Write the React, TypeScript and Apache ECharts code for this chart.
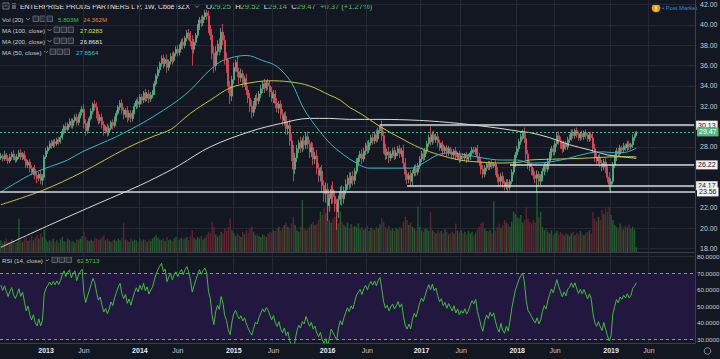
import React, { useEffect, useRef } from "react";
import * as echarts from "echarts";

// ---------- data ----------
const startDate = "2012-07-09"; // Monday of first weekly bar
const paddingWeeks = 32; // empty weeks on the right side of the chart

const priorCloses = [25.6, 25.2, 24.8, 25.1, 24.5, 24.0, 24.4, 24.9, 25.3, 25.0, 25.6, 26.0, 26.4, 26.9];

const closes = [
  27.1, 26.8, 27.2, 26.9, 26.6, 27.0, 27.3, 26.9, 26.7, 27.0,
  27.4, 27.0, 27.3, 26.8, 26.2, 26.5, 25.9, 25.5, 25.8, 25.2,
  24.9, 25.3, 24.7, 25.0, 27.0, 27.6, 27.9, 28.3, 28.1, 28.5,
  28.3, 28.7, 28.5, 28.9, 29.5, 30.0, 29.7, 30.2, 30.5, 30.1,
  30.6, 30.9, 30.4, 31.0, 31.4, 31.7, 30.3, 29.6, 30.2, 30.8,
  31.5, 32.2, 31.9, 31.2, 30.6, 30.9, 30.2, 29.6, 29.9, 29.4,
  29.8, 30.4, 30.1, 30.8, 31.3, 31.9, 32.3, 31.6, 31.2, 31.6,
  30.9, 31.3, 30.8, 31.4, 32.0, 32.5, 32.2, 32.9, 32.6, 33.3,
  32.8, 33.2, 32.7, 33.1, 33.4, 34.2, 35.0, 35.6, 36.2, 36.7,
  36.2, 36.6, 35.8, 36.4, 36.9, 36.5, 37.2, 37.6, 37.3, 37.9,
  38.3, 38.0, 38.7, 39.2, 38.9, 38.4, 37.6, 38.3, 39.0, 39.8,
  40.5, 40.2, 40.8, 41.2, 40.9, 39.6, 39.0, 37.2, 36.0, 37.4,
  38.1, 37.6, 39.3, 38.5, 36.7, 35.9, 34.0, 33.0, 34.6, 35.8,
  36.3, 35.4, 34.8, 35.2, 34.3, 34.7, 33.6, 32.8, 32.0, 31.4,
  32.1, 32.8, 32.5, 33.2, 33.7, 34.2, 33.8, 34.3, 34.0, 33.4,
  32.8, 33.2, 32.3, 31.8, 32.2, 31.2, 30.6, 31.0, 29.8, 30.1,
  28.6, 27.4, 25.8, 26.9, 27.8, 28.4, 27.9, 28.6, 28.2, 29.0,
  28.3, 27.5, 27.9, 26.8, 27.1, 25.9, 25.2, 25.6, 24.2, 23.4,
  23.8, 22.2, 22.9, 23.8, 23.1, 22.4, 21.6, 22.8, 23.6, 22.9,
  23.7, 24.3, 24.9, 24.4, 25.1, 24.7, 25.6, 26.5, 26.9, 27.3,
  26.8, 27.6, 28.1, 27.7, 28.4, 28.9, 28.6, 29.2, 28.8, 29.6,
  30.0, 29.1, 27.9, 27.2, 27.5, 26.9, 27.3, 27.6, 27.1, 27.4,
  27.8, 27.3, 27.6, 26.4, 25.3, 24.8, 25.2, 24.6, 25.4, 25.9,
  25.5, 26.1, 26.8, 27.3, 27.0, 27.6, 28.3, 28.9, 28.5, 29.2,
  28.7, 29.0, 28.4, 27.9, 28.2, 27.6, 27.9, 27.4, 27.8, 27.5,
  27.2, 27.6, 27.0, 27.3, 26.8, 27.1, 26.9, 27.2, 26.8, 27.0,
  27.4, 27.7, 27.5, 27.8, 27.0, 26.5, 25.8, 25.3, 25.9, 26.3,
  26.0, 26.4, 26.1, 26.3, 25.6, 25.0, 24.6, 25.1, 24.4, 24.1,
  24.5, 24.0, 24.6, 25.5, 26.3, 27.2, 27.8, 28.5, 29.0, 29.4,
  28.8, 27.3, 26.3, 26.0, 25.6, 25.2, 24.9, 25.3, 24.6, 24.9,
  25.6, 26.1, 25.8, 26.6, 27.2, 27.8, 27.5, 28.3, 29.1, 28.6,
  28.2, 27.8, 28.3, 28.0, 28.7, 28.9, 29.4, 29.1, 29.6, 29.2,
  28.9, 29.3, 29.0, 29.4, 29.1, 28.8, 29.2, 28.9, 27.8, 27.0,
  26.6, 26.9, 26.4, 26.0, 26.5, 25.8, 25.0, 24.3, 24.6, 26.2,
  26.9, 27.6, 27.3, 27.9, 27.7, 28.1, 27.9, 28.3, 28.0, 28.2,
  28.9, 29.1, 29.47,
];

const upperWicks = [
  .3, .2, .4, .2, .3, .3, .2, .4, .2, .3,
  .3, .4, .2, .3, .4, .2, .3, .3, .2, .4,
  .3, .2, .4, .3, .2, .3, .2, .3, .4, .2,
  .3, .2, .3, .2, .3, .2, .4, .2, .3, .3,
  .2, .3, .4, .2, .3, .3, .5, .4, .3, .2,
  .3, .2, .4, .5, .3, .3, .4, .3, .2, .4,
  .3, .2, .3, .2, .3, .2, .3, .4, .3, .2,
  .4, .3, .3, .2, .3, .2, .4, .3, .3, .2,
  .4, .2, .4, .3, .2, .3, .2, .3, .2, .3,
  .4, .2, .5, .2, .3, .4, .2, .3, .4, .2,
  .3, .4, .2, .3, .4, .5, .6, .3, .2, .3,
  .3, .4, .2, .3, .3, .5, .4, .6, .7, .5,
  .4, .6, .4, .8, .5, .6, .7, .5, .4, .5,
  .3, .6, .4, .5, .4, .3, .5, .4, .5, .6,
  .4, .3, .5, .3, .4, .3, .5, .2, .4, .5,
  .5, .4, .4, .5, .3, .4, .5, .4, .5, .4,
  .6, .7, .8, .5, .4, .3, .6, .3, .5, .4,
  .5, .4, .6, .5, .4, .6, .5, .4, .6, .5,
  .7, .6, .5, .4, .8, .6, .5, .4, .5, .6,
  .4, .5, .3, .6, .4, .5, .3, .4, .3, .3,
  .5, .3, .3, .5, .3, .3, .4, .3, .5, .3,
  .2, .6, .5, .4, .3, .5, .3, .3, .4, .3,
  .3, .4, .3, .6, .5, .4, .3, .5, .3, .3,
  .4, .3, .3, .3, .4, .3, .3, .3, 1.1, .3,
  .4, .3, .4, .3, .2, .4, .2, .3, .3, .2,
  .3, .2, .4, .2, .3, .2, .3, .2, .3, .3,
  .2, .3, .3, .2, .4, .4, .5, .4, .3, .2,
  .3, .2, .3, .2, .4, .4, .3, .3, .4, .3,
  .3, .3, .2, .3, .3, .3, .3, .3, .3, .3,
  .5, .6, .4, .3, .4, .3, .4, .4, .3, .4,
  .3, .3, .4, .3, .3, .3, .4, .3, .3, .4,
  .4, .3, .3, .3, .3, .3, .3, .3, .2, .3,
  .3, .2, .3, .2, .3, .3, .2, .3, .5, .5,
  .4, .3, .4, .3, .3, .4, .4, .5, .3, .3,
  .3, .3, .3, .3, .2, .3, .2, .3, .3, .2,
  .3, .2, .05,
];

const lowerWicks = [
  .2, .3, .2, .3, .3, .2, .3, .2, .3, .2,
  .2, .3, .3, .2, .3, .3, .4, .3, .3, .4,
  .5, .3, .4, .5, .3, .2, .3, .2, .3, .2,
  .3, .2, .3, .2, .2, .3, .3, .2, .3, .3,
  .3, .2, .3, .3, .2, .3, .5, .5, .3, .3,
  .2, .3, .3, .4, .4, .3, .4, .5, .3, .4,
  .3, .2, .4, .2, .3, .2, .3, .4, .5, .3,
  .5, .3, .4, .3, .2, .3, .4, .3, .4, .3,
  .4, .3, .4, .3, .3, .3, .2, .3, .3, .3,
  .5, .3, .5, .3, .3, .4, .2, .3, .4, .3,
  .3, .4, .3, .3, .4, .5, 1.6, .4, .3, .3,
  .3, .4, .3, .3, .4, .4, .5, .6, .7, .5,
  .4, .6, .3, .5, .6, .6, .7, .8, .5, .4,
  .4, .5, .6, .4, .5, .4, .5, .5, .6, .6,
  .4, .4, .5, .3, .4, .4, .5, .3, .4, .5,
  .4, .5, .5, .4, .5, .5, .5, .5, .6, .6,
  .5, .8, 1.2, .5, .4, .4, .5, .4, .5, .4,
  .5, .6, .5, .6, .5, .6, .7, .6, .7, .8,
  .9, 1.5, .6, .5, .7, .8, 1.8, .6, .5, .7,
  .5, .4, .5, .6, .4, .5, .4, .3, .4, .4,
  .5, .3, .4, .4, .3, .3, .4, .3, .4, .3,
  .3, .5, .6, .5, .4, .5, .3, .4, .4, .3,
  .3, .4, .3, .5, .6, .5, .4, .5, .4, .3,
  .4, .3, .3, .3, .4, .3, .3, .3, .4, .3,
  .3, .3, .4, .3, .3, .4, .3, .4, .3, .3,
  .4, .3, .3, .3, .4, .3, .3, .3, .4, .3,
  .3, .3, .2, .3, .5, .4, .5, .4, .3, .3,
  .3, .3, .3, .2, .4, .5, .5, .4, .4, .4,
  .3, .4, .3, .3, .3, .3, .3, .3, .3, .3,
  .4, .6, .5, .4, .4, .4, .5, 1.4, .5, .4,
  .3, .4, .3, .3, .3, .3, .4, .3, .3, .4,
  .4, .4, .3, .3, .3, .3, .3, .3, .3, .3,
  .3, .3, .3, .3, .3, .3, .3, .3, .4, .5,
  .4, .3, .4, .4, .3, .4, .5, .6, .8, .3,
  .3, .3, .3, .3, .3, .3, .3, .3, .3, .3,
  .3, .3, 0,
];

// weekly volume, millions
const volumes = [
  14, 11, 13, 16, 12, 10, 15, 13, 11, 12,
  40, 14, 12, 16, 18, 13, 15, 19, 14, 17,
  20, 16, 22, 18, 26, 15, 12, 14, 13, 16,
  12, 14, 11, 15, 18, 13, 12, 16, 14, 12,
  13, 11, 15, 14, 16, 19, 24, 18, 14, 13,
  15, 13, 17, 16, 14, 15, 18, 20, 14, 16,
  13, 12, 14, 15, 13, 16, 14, 17, 35, 15,
  14, 12, 16, 13, 15, 14, 12, 16, 13, 15,
  14, 12, 15, 13, 16, 18, 20, 17, 15, 14,
  16, 13, 18, 14, 15, 13, 16, 18, 14, 15,
  17, 15, 16, 18, 14, 19, 26, 17, 15, 18,
  16, 19, 15, 17, 20, 24, 22, 36, 30, 21,
  18, 20, 24, 22, 28, 25, 30, 40, 26, 22,
  19, 22, 20, 18, 24, 21, 26, 23, 28, 30,
  24, 20, 22, 19, 18, 21, 20, 18, 22, 24,
  23, 26, 25, 28, 30, 26, 29, 32, 35, 30,
  28, 34, 42, 32, 26, 24, 30, 62, 28, 26,
  27, 30, 33, 36, 32, 34, 38, 48, 44, 52,
  46, 54, 38, 35, 40, 42, 45, 34, 48, 36,
  32, 30, 35, 28, 33, 30, 31, 29, 34, 27,
  30, 26, 28, 31, 25, 29, 27, 26, 30, 28,
  33, 40, 36, 30, 27, 31, 26, 28, 25, 29,
  27, 30, 28, 36, 42, 38, 32, 35, 30, 28,
  26, 54, 30, 26, 24, 28, 27, 25, 48, 26,
  24, 22, 26, 23, 25, 22, 27, 24, 21, 23,
  24, 22, 34, 25, 23, 26, 22, 24, 21, 25,
  22, 24, 20, 23, 27, 30, 34, 36, 28, 25,
  24, 26, 23, 60, 25, 30, 34, 29, 32, 38,
  35, 33, 30, 36, 48, 45, 42, 40, 44, 35,
  38, 54, 40, 36, 34, 38, 35, 80, 42, 48,
  30, 26, 28, 24, 22, 26, 20, 23, 25, 21,
  24, 22, 20, 23, 21, 19, 22, 24, 20, 23,
  21, 25, 22, 20, 23, 24, 26, 22, 48, 40,
  36, 42, 38, 50, 45, 52, 48, 54, 44, 38,
  32, 30, 28, 34, 30, 27, 31, 29, 33, 28,
  30, 27, 5.8,
];

// moving-average curves: [week index, value]
const ma50Knots = [
  [0, 23.55], [18, 25.4], [37, 26.7], [45, 27.5], [64, 29.0], [79, 30.4], [90, 31.6], [99, 32.7],
  [105, 33.6], [116, 35.6], [123, 36.5], [136, 37.0], [145, 36.5], [153, 35.9], [161, 34.3],
  [167, 32.0], [172, 30.6], [182, 28.4], [190, 27.2], [196, 26.5], [204, 25.9], [215, 25.9],
  [227, 25.9], [232, 26.2], [242, 27.2], [249, 27.4], [258, 27.2], [267, 26.9], [277, 26.7],
  [286, 26.7], [293, 26.4], [304, 26.5], [315, 26.9], [326, 27.4], [334, 27.5], [341, 27.4],
  [347, 27.5], [352, 27.86],
];
const ma100Knots = [
  [0, 22.3], [23, 23.7], [45, 25.5], [70, 27.9], [84, 29.0], [94, 29.7], [99, 30.4], [105, 31.3],
  [116, 32.6], [127, 33.8], [138, 34.3], [149, 34.5], [160, 34.4], [171, 34.0], [182, 33.1],
  [188, 32.6], [193, 31.9], [199, 31.3], [210, 30.0], [221, 28.9], [232, 27.9], [243, 27.2],
  [254, 26.7], [265, 26.5], [277, 26.4], [288, 26.5], [293, 26.7], [310, 26.8], [326, 26.9],
  [337, 27.0], [352, 27.03],
];
const ma200Knots = [
  [0, 18.1], [27, 20.3], [55, 22.5], [77, 24.2], [94, 25.7], [99, 26.2], [116, 28.0], [138, 29.5],
  [155, 30.3], [171, 30.8], [182, 30.8], [193, 30.7], [210, 30.7], [232, 30.6], [254, 30.3],
  [277, 29.8], [288, 29.5], [293, 29.4], [304, 28.9], [315, 28.2], [326, 27.7], [336, 27.2],
  [345, 27.0], [352, 26.87],
];

// horizontal price levels: value and the week index where they start
const levelValues = [30.13, 26.22, 24.17, 23.56];
const levelStarts = [210, 282, 225, 0];
const lastPrice = 29.47;

const priceTicks = [18, 20, 22, 24, 26, 28, 30, 32, 34, 36, 38, 40, 42];
const priceLabelTicks = [18, 20, 22, 28, 32, 34, 36, 38, 40, 42]; // others are hidden behind level tags
const rsiTicks = [30, 40, 50, 60, 70, 80];

// ---------- style ----------
const BG = "#131722";
const GRID = "#242833";
const AXIS = "#3a3e4a";
const TXT = "#c9ccd4";
const UP = "#53b987";
const DOWN = "#eb4d5c";
const FONT = "Liberation Sans, Arial, sans-serif";

const DAY = 86400000;
const start = Date.parse(startDate + "T00:00:00Z");
const totalWeeks = closes.length + paddingWeeks;
const dates: string[] = [];
for (let i = 0; i < totalWeeks; i++) dates.push(new Date(start + i * 7 * DAY).toISOString().slice(0, 10));

function markFor(dateStr: string): string {
  const d = Date.parse(dateStr + "T00:00:00Z");
  const e = d + 6 * DAY;
  const ed = new Date(e);
  const first = Date.UTC(ed.getUTCFullYear(), ed.getUTCMonth(), 1);
  if (first >= d && first <= e) {
    const m = ed.getUTCMonth();
    if (m === 0) return String(ed.getUTCFullYear());
    if (m === 5) return "Jun";
  }
  return "";
}
const isMark = (_i: number, v: string) => markFor(v) !== "";

function buildOption() {
  const candles = closes.map((c, i) => {
    const o = i === 0 ? priorCloses[priorCloses.length - 1] : closes[i - 1];
    const hi = Math.max(o, c) + upperWicks[i];
    const lo = Math.min(o, c) - lowerWicks[i];
    return [o, c, +lo.toFixed(2), +hi.toFixed(2)];
  });
  const vols = volumes.map((v, i) => ({
    value: v,
    itemStyle: { color: candles[i][1] >= candles[i][0] ? "#1d5a2c" : "#5b2230" },
  }));

  // RSI(14), Wilder
  const all = [...priorCloses, ...closes];
  const p = priorCloses.length;
  const rsi: number[] = [];
  let ag = 0, al = 0;
  for (let k = 1; k <= 14; k++) {
    const ch = all[k] - all[k - 1];
    if (ch > 0) ag += ch; else al -= ch;
  }
  ag /= 14; al /= 14;
  for (let k = 14; k < all.length; k++) {
    if (k > 14) {
      const ch = all[k] - all[k - 1];
      ag = (ag * 13 + Math.max(ch, 0)) / 14;
      al = (al * 13 + Math.max(-ch, 0)) / 14;
    }
    if (k >= p) rsi.push(al === 0 ? 100 : 100 - 100 / (1 + ag / al));
  }

  const last = totalWeeks - 1;
  const tagLabel = (bg: string, fg: string) => ({
    show: true,
    position: "end",
    distance: 2,
    formatter: (pr: any) => pr.data && pr.data.tag,
    backgroundColor: bg,
    color: fg,
    fontSize: 7,
    fontFamily: FONT,
    padding: [1, 2, 1, 2],
  });
  const levelStyle = { color: "#d5d8df", width: 1.6, type: "solid" };
  const levelLines: any[] = levelValues.map((v, k) =>
    levelStarts[k] === 0
      ? { yAxis: v, tag: v.toFixed(2), lineStyle: levelStyle, label: tagLabel("#f0f0f0", "#131722") }
      : [
          { coord: [levelStarts[k], v], tag: v.toFixed(2), lineStyle: levelStyle, label: tagLabel("#f0f0f0", "#131722") },
          { coord: [last, v] },
        ]
  );
  levelLines.push({
    yAxis: lastPrice,
    tag: lastPrice.toFixed(2),
    lineStyle: { color: UP, width: 1, type: [2, 2] },
    label: tagLabel(UP, "#ffffff"),
  });

  const maLine = (data: number[][], color: string) => ({
    type: "line",
    xAxisIndex: 0,
    yAxisIndex: 0,
    data,
    smooth: 0.35,
    showSymbol: false,
    symbol: "none",
    lineStyle: { color, width: 1 },
    z: 4,
    silent: true,
  });

  const txt = (x: number, y: number, text: string, fill: string, size = 6.2, weight = "normal") => ({
    type: "text",
    x,
    y,
    silent: true,
    style: { text, fill, font: `${weight} ${size}px ${FONT}`, verticalAlign: "middle" },
  });
  const chevron = (x: number, y: number) => ({
    type: "polyline",
    silent: true,
    shape: { points: [[x, y - 1], [x + 2, y + 1], [x + 4, y - 1]] },
    style: { stroke: "#9598a1", lineWidth: 0.8, fill: "none" },
  });
  const icons = (x: number, y: number) =>
    [0, 1, 2].map((k) => ({
      type: "rect",
      silent: true,
      shape: { x: x + k * 7, y: y - 3, width: 5.5, height: 5.5 },
      style: { stroke: "#6a6d78", lineWidth: 0.8, fill: "#2a2e39" },
    }));

  const rows = [
    { y: 19, label: "Vol (20)", cx: 26, ix: 33, vals: [[58, "5.803M", "#3fbf4f"], [83, "24.362M", "#e8843c"]] },
    { y: 30, label: "MA (100, close)", cx: 47.5, ix: 54, vals: [[80, "27.0283", "#e2e23a"]] },
    { y: 41, label: "MA (200, close)", cx: 47.5, ix: 54, vals: [[80, "26.8681", "#e6e6e6"]] },
    { y: 52, label: "MA (50, close)", cx: 44, ix: 50, vals: [[76, "27.8564", "#2ec4d6"]] },
    { y: 260, label: "RSI (14, close)", cx: 45, ix: 52, vals: [[77, "62.5713", "#47c93c"]] },
  ];
  const graphics: any[] = [];
  rows.forEach((r) => {
    graphics.push(txt(2, r.y, r.label, TXT));
    graphics.push(chevron(r.cx, r.y));
    graphics.push(...icons(r.ix, r.y));
    r.vals.forEach((v: any) => graphics.push(txt(v[0], r.y, v[1], v[2])));
  });
  // title row
  graphics.push({
    type: "rect", silent: true, shape: { x: 3, y: 3, width: 6, height: 6 },
    style: { stroke: "#8a8d96", lineWidth: 0.8, fill: "none" },
  });
  graphics.push({
    type: "line", silent: true, shape: { x1: 4.5, y1: 6, x2: 7.5, y2: 6 },
    style: { stroke: "#8a8d96", lineWidth: 0.8 },
  });
  graphics.push({
    type: "rect", silent: true, shape: { x: 12, y: 3, width: 4, height: 6 },
    style: { fill: "#5d606b" },
  });
  graphics.push(txt(20, 6.5, "ENTERPRISE PRODS PARTNERS L P, 1W, Cboe BZX", "#e1e3ea", 6.9));
  graphics.push(chevron(195, 6.5));
  graphics.push({
    type: "text",
    x: 206,
    y: 6.5,
    silent: true,
    style: {
      text: "{l|O}{v|29.25}  {l|H}{v|29.52}  {l|L}{v|29.14}  {l|C}{v|29.47}  {v|+0.37 (+1.27%)}",
      verticalAlign: "middle",
      font: `7.6px ${FONT}`,
      rich: {
        l: { fill: "#e1e3ea", font: `7.6px ${FONT}` },
        v: { fill: "#4fc26a", font: `7.6px ${FONT}` },
      },
    },
  });
  // top right status
  graphics.push({ type: "circle", silent: true, shape: { cx: 656, cy: 8, r: 4.3 }, style: { fill: "#f39c12" } });
  graphics.push(txt(655, 8.3, "!", "#ffffff", 6.5, "bold"));
  graphics.push(txt(662, 7.5, "• Post Market", "#2f8fe0", 5.9));
  // settings icon bottom right
  graphics.push({ type: "circle", silent: true, shape: { cx: 707.5, cy: 351, r: 3.3 }, style: { stroke: "#9598a1", lineWidth: 0.9, fill: "none" } });

  return {
    backgroundColor: BG,
    animation: false,
    textStyle: { fontFamily: FONT },
    grid: [
      { left: 0, top: 0, width: 695, height: 252, outerBoundsMode: "none" },
      { left: 0, top: 253, width: 695, height: 90, outerBoundsMode: "none" },
    ],
    xAxis: [
      {
        type: "category", gridIndex: 0, data: dates, boundaryGap: true,
        axisLine: { show: true, lineStyle: { color: AXIS, width: 1 } },
        axisTick: { show: false }, axisLabel: { show: false },
        splitLine: { show: true, interval: isMark, lineStyle: { color: GRID, width: 1 } },
      },
      {
        type: "category", gridIndex: 1, data: dates, boundaryGap: true,
        axisLine: { show: true, lineStyle: { color: AXIS, width: 1 } },
        axisTick: { show: false },
        axisLabel: {
          show: true, interval: isMark, margin: 4,
          formatter: (v: string) => {
            const m = markFor(v);
            return m === "Jun" ? `{m|${m}}` : `{y|${m}}`;
          },
          rich: {
            y: { color: "#e6e8ee", fontSize: 7, fontWeight: "bold", fontFamily: FONT },
            m: { color: "#c3c6ce", fontSize: 7, fontFamily: FONT },
          },
        },
        splitLine: { show: true, interval: isMark, lineStyle: { color: GRID, width: 1 } },
      },
    ],
    yAxis: [
      {
        type: "value", gridIndex: 0, position: "right", min: 17.64, max: 42.46, scale: true,
        axisLine: { show: true, lineStyle: { color: AXIS } },
        axisTick: { show: false, customValues: priceTicks },
        axisLabel: {
          customValues: priceLabelTicks, color: TXT, fontSize: 7, margin: 5, fontFamily: FONT,
          formatter: (v: number) => v.toFixed(2),
        },
        splitLine: { show: true, lineStyle: { color: GRID, width: 1 } },
      },
      { type: "value", gridIndex: 0, min: 0, max: 300, show: false, splitLine: { show: false } },
      {
        type: "value", gridIndex: 1, position: "right", min: 27.7, max: 82.1, scale: true,
        axisLine: { show: true, lineStyle: { color: AXIS } },
        axisTick: { show: false, customValues: rsiTicks },
        axisLabel: {
          customValues: rsiTicks, color: TXT, fontSize: 6.2, margin: 2, fontFamily: FONT,
          formatter: (v: number) => v.toFixed(4),
        },
        splitLine: { show: true, lineStyle: { color: GRID, width: 1 } },
      },
    ],
    series: [
      {
        type: "bar", xAxisIndex: 0, yAxisIndex: 1, data: vols, barWidth: 1.5, z: 1, silent: true,
      },
      {
        type: "candlestick", xAxisIndex: 0, yAxisIndex: 0, data: candles, barWidth: 1.5, z: 3, silent: true,
        itemStyle: { color: UP, color0: DOWN, borderColor: UP, borderColor0: DOWN, borderWidth: 0.8 },
        markLine: { silent: true, symbol: ["none", "none"], animation: false, z: 6, data: levelLines },
      },
      maLine(ma200Knots, "#d9d9d9"),
      maLine(ma100Knots, "#c8c63a"),
      maLine(ma50Knots, "#2fb8ca"),
      {
        type: "line", xAxisIndex: 1, yAxisIndex: 2, data: rsi.map((v) => +v.toFixed(2)),
        showSymbol: false, symbol: "none", lineStyle: { color: "#3fbf3a", width: 1 }, z: 4, silent: true,
        markArea: { silent: true, itemStyle: { color: "#21173f" }, data: [[{ yAxis: 30 }, { yAxis: 70 }]] },
        markLine: {
          silent: true, symbol: ["none", "none"], label: { show: false },
          lineStyle: { color: "#8d90a0", width: 1, type: [3, 3] },
          data: [{ yAxis: 70 }, { yAxis: 30 }],
        },
      },
    ],
    graphic: graphics,
  };
}

export default function App() {
  const ref = useRef<HTMLDivElement>(null);
  useEffect(() => {
    const chart = echarts.init(ref.current!, null, { renderer: "svg" });
    chart.setOption(buildOption() as any);
    return () => chart.dispose();
  }, []);
  return (
    <div
      ref={ref}
      style={{ position: "fixed", left: 0, top: 0, width: 720, height: 359, background: BG }}
    />
  );
}
